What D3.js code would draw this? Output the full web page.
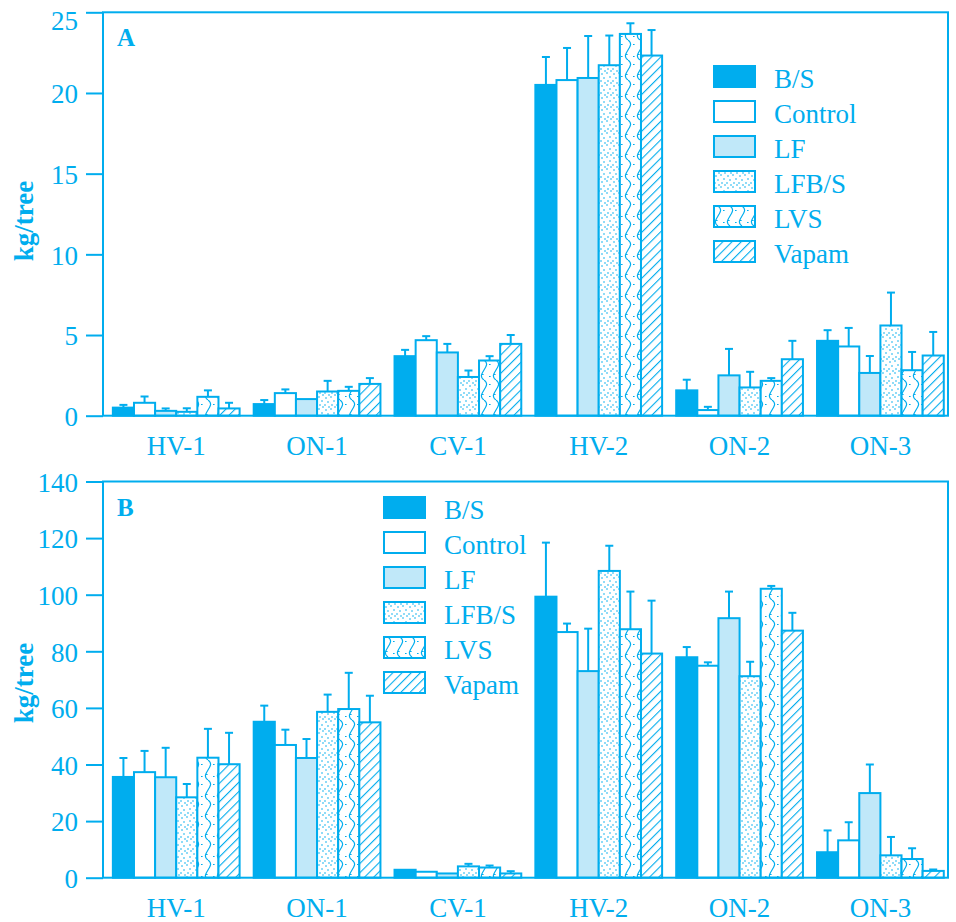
<!DOCTYPE html>
<html>
<head>
<meta charset="utf-8">
<script src="https://cdn.jsdelivr.net/npm/d3@7"></script>
<style>
  body { margin: 0; background: #fff; }
  svg text { font-family: "Liberation Serif", "DejaVu Serif", serif; fill: #00adee; }
</style>
</head>
<body>
<div class="chart"></div>
<script>
const categories = ['HV-1', 'ON-1', 'CV-1', 'HV-2', 'ON-2', 'ON-3'];
const series = ['B/S', 'Control', 'LF', 'LFB/S', 'LVS', 'Vapam'];

// panel A, rows follow series, columns follow categories
const valuesA = [
  [0.5, 0.72, 3.69, 20.5, 1.57, 4.64],
  [0.8, 1.4, 4.68, 20.8, 0.35, 4.29],
  [0.3, 1.03, 3.92, 20.93, 2.5, 2.65],
  [0.24, 1.5, 2.4, 21.72, 1.75, 5.59],
  [1.17, 1.54, 3.42, 23.66, 2.16, 2.82],
  [0.45, 1.97, 4.45, 22.32, 3.5, 3.73]
];
const errorsA = [
  [0.17, 0.25, 0.39, 1.73, 0.66, 0.66],
  [0.39, 0.23, 0.25, 1.99, 0.2, 1.15],
  [0.15, 0, 0.53, 2.6, 1.64, 1.05],
  [0.22, 0.66, 0.4, 1.84, 0.97, 2.04],
  [0.4, 0.25, 0.27, 0.66, 0.17, 1.13],
  [0.35, 0.36, 0.55, 1.58, 1.14, 1.46]
];
const ticksA = [0, 5, 10, 15, 20, 25];

// panel B
const valuesB = [
  [35.6, 55.1, 2.8, 99.3, 77.9, 9.0],
  [37.3, 46.9, 2.1, 86.8, 74.9, 13.2],
  [35.5, 42.3, 1.5, 73.0, 91.7, 29.9],
  [28.4, 58.6, 4.0, 108.4, 71.2, 7.9],
  [42.4, 59.6, 3.6, 87.8, 102.1, 6.6],
  [40.1, 54.9, 1.5, 79.2, 87.3, 2.4]
];
const errorsB = [
  [6.7, 5.7, 0, 19.1, 3.6, 7.7],
  [7.5, 5.4, 0, 3.0, 1.2, 6.4],
  [10.4, 6.7, 0, 15.0, 9.4, 10.1],
  [4.7, 6.1, 0.9, 8.9, 5.1, 6.5],
  [10.2, 12.8, 0.7, 13.3, 1.0, 3.8],
  [11.1, 9.4, 0.8, 18.7, 6.3, 0.5]
];
const ticksB = [0, 20, 40, 60, 80, 100, 120, 140];

const cyan = '#00adee';
const light = '#c0e8f9';
const w = 956, h = 922;
const left = 103, right = 948;

const svg = d3.select('div.chart').append('svg')
  .attr('width', w)
  .attr('height', h);

// fill patterns
const defs = svg.append('defs');

const dots = defs.append('pattern')
  .attr('id', 'stipple')
  .attr('patternUnits', 'userSpaceOnUse')
  .attr('width', 12).attr('height', 12);
dots.append('rect').attr('width', 12).attr('height', 12).attr('fill', '#fff');
[[2, 2], [7, 1], [10, 5], [4, 6], [1, 9], [8, 9], [5, 11], [11, 11]].forEach(p => {
  dots.append('circle').attr('cx', p[0]).attr('cy', p[1]).attr('r', 0.8).attr('fill', cyan);
});

const wavy = defs.append('pattern')
  .attr('id', 'wavy')
  .attr('patternUnits', 'userSpaceOnUse')
  .attr('width', 12).attr('height', 20);
wavy.append('rect').attr('width', 12).attr('height', 20).attr('fill', '#fff');
wavy.append('path')
  .attr('d', 'M4,0 C13,6 -5,14 4,20')
  .attr('fill', 'none')
  .attr('stroke', cyan)
  .attr('stroke-width', 1.2);
[[9, 4], [2, 14], [9, 16]].forEach(p => {
  wavy.append('rect').attr('x', p[0]).attr('y', p[1]).attr('width', 1.6).attr('height', 1).attr('fill', cyan);
});

const hatch = defs.append('pattern')
  .attr('id', 'hatch')
  .attr('patternUnits', 'userSpaceOnUse')
  .attr('width', 6.5).attr('height', 6.5)
  .attr('patternTransform', 'rotate(45)');
hatch.append('rect').attr('width', 6.5).attr('height', 6.5).attr('fill', '#fff');
hatch.append('line')
  .attr('x1', 0).attr('y1', 0).attr('x2', 0).attr('y2', 6.5)
  .attr('stroke', cyan)
  .attr('stroke-width', 2.2);

const fills = [cyan, '#fff', light, 'url(#stipple)', 'url(#wavy)', 'url(#hatch)'];

const x0 = d3.scaleBand()
  .domain(categories)
  .range([left, right])
  .paddingInner(0.1)
  .paddingOuter(0.05)
  .align(0.7);

const x1 = d3.scaleBand()
  .domain(series)
  .range([0, x0.bandwidth()]);

function drawPanel(top, bottom, maxV, ticks, values, errors, letter, legendX, legendY, labelY) {
  const y = d3.scaleLinear().domain([0, maxV]).range([bottom, top]);
  const g = svg.append('g');

  const yAxis = d3.axisLeft(y)
    .tickValues(ticks)
    .tickSize(17)
    .tickPadding(8);
  const ya = g.append('g')
    .attr('transform', 'translate(' + left + ',0)')
    .call(yAxis);
  ya.select('.domain').remove();
  ya.selectAll('line').attr('stroke', cyan).attr('stroke-width', 2);
  ya.selectAll('text')
    .attr('fill', cyan)
    .attr('dy', d => y(d) < 20 ? '0.62em' : '0.36em')
    .style('font-size', '27px')
    .style('font-family', '"Liberation Serif", serif');

  const xAxis = d3.axisBottom(x0).tickSize(0).tickPadding(20);
  const xa = g.append('g')
    .attr('transform', 'translate(0,' + bottom + ')')
    .call(xAxis);
  xa.select('.domain').remove();
  xa.selectAll('text')
    .attr('fill', cyan)
    .style('font-size', '27px')
    .style('font-family', '"Liberation Serif", serif');

  // bars
  series.forEach((s, j) => {
    const rows = categories.map((c, i) => ({ c: c, v: values[j][i], e: errors[j][i] }));
    const sg = g.append('g');
    sg.selectAll('line.err')
      .data(rows.filter(d => d.e > 0))
      .enter()
      .append('line')
      .attr('class', 'err')
      .attr('x1', d => x0(d.c) + x1(s) + x1.bandwidth() / 2)
      .attr('x2', d => x0(d.c) + x1(s) + x1.bandwidth() / 2)
      .attr('y1', d => y(d.v))
      .attr('y2', d => y(d.v + d.e))
      .attr('stroke', cyan)
      .attr('stroke-width', 2);
    sg.selectAll('line.cap')
      .data(rows.filter(d => d.e > 0))
      .enter()
      .append('line')
      .attr('class', 'cap')
      .attr('x1', d => x0(d.c) + x1(s) + x1.bandwidth() / 2 - 4)
      .attr('x2', d => x0(d.c) + x1(s) + x1.bandwidth() / 2 + 4)
      .attr('y1', d => y(d.v + d.e))
      .attr('y2', d => y(d.v + d.e))
      .attr('stroke', cyan)
      .attr('stroke-width', 2);
    sg.selectAll('rect')
      .data(rows)
      .enter()
      .append('rect')
      .attr('x', d => x0(d.c) + x1(s))
      .attr('y', d => y(d.v))
      .attr('width', x1.bandwidth())
      .attr('height', d => y(0) - y(d.v))
      .attr('fill', fills[j])
      .attr('stroke', cyan)
      .attr('stroke-width', 2);
  });

  // frame
  g.append('rect')
    .attr('x', left)
    .attr('y', top)
    .attr('width', right - left)
    .attr('height', bottom - top)
    .attr('fill', 'none')
    .attr('stroke', cyan)
    .attr('stroke-width', 2);

  g.append('text')
    .text(letter)
    .attr('x', left + 14)
    .attr('y', top + 34)
    .style('font-size', '25px')
    .style('font-weight', 'bold');

  g.append('text')
    .text('kg/tree')
    .attr('transform', 'translate(33,' + labelY + ') rotate(-90)')
    .attr('text-anchor', 'middle')
    .style('font-size', '27px')
    .style('font-weight', 'bold');

  // legend
  const lg = g.append('g').attr('transform', 'translate(' + legendX + ',' + legendY + ')');
  series.forEach((s, j) => {
    lg.append('rect')
      .attr('x', 0)
      .attr('y', j * 35)
      .attr('width', 41)
      .attr('height', 21)
      .attr('fill', fills[j])
      .attr('stroke', cyan)
      .attr('stroke-width', 2);
    lg.append('text')
      .text(s)
      .attr('x', 60)
      .attr('y', j * 35 + 22)
      .style('font-size', '27px');
  });
}

drawPanel(12.3, 415.7, 25, ticksA, valuesA, errorsA, 'A', 714, 66, 221);
drawPanel(481.5, 877.7, 140, ticksB, valuesB, errorsB, 'B', 384, 497, 683);
</script>
</body>
</html>
